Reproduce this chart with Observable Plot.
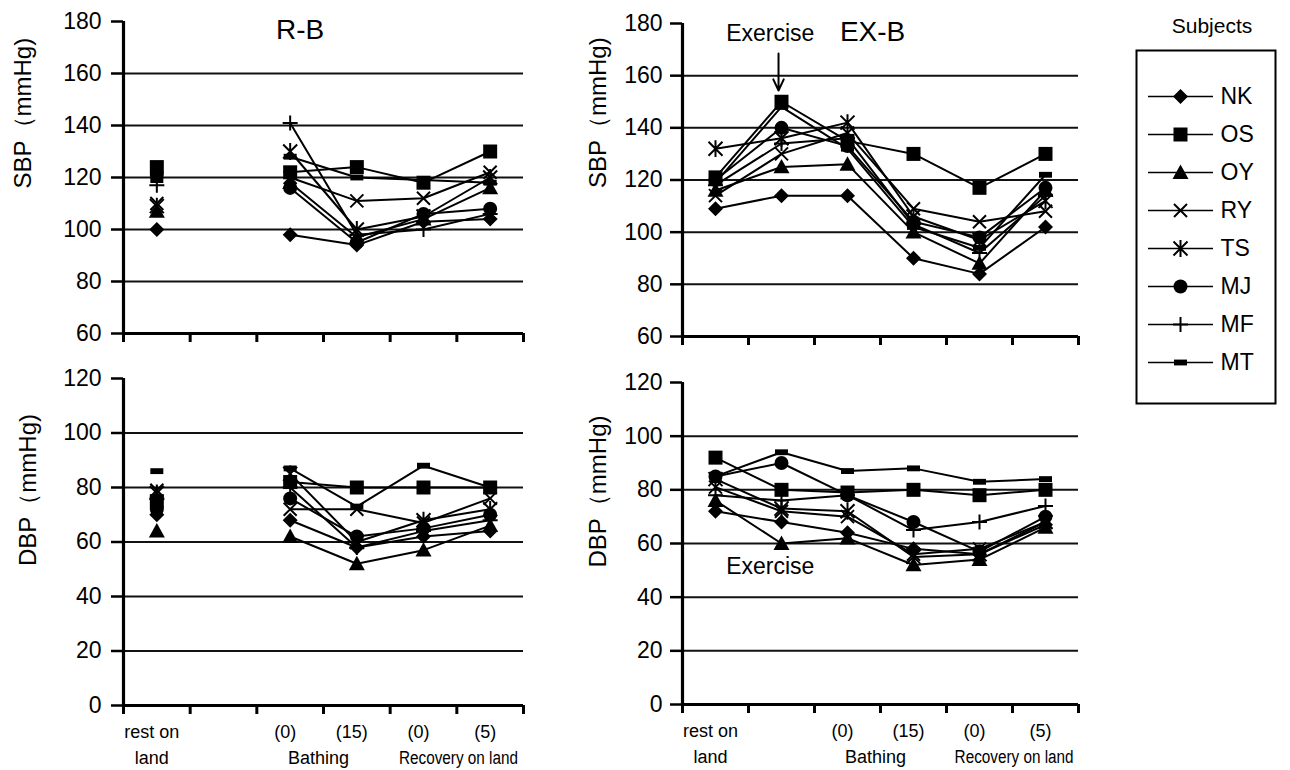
<!DOCTYPE html>
<html><head><meta charset="utf-8">
<script src="https://cdn.jsdelivr.net/npm/d3@7"></script>
<script src="https://cdn.jsdelivr.net/npm/@observablehq/plot@0.6"></script>
<style>
html,body{margin:0;padding:0;background:#fff;}
#root{position:relative;width:1290px;height:770px;overflow:hidden;background:#fff;}
#root > div{position:absolute;}
#root svg{overflow:visible;}
</style></head><body><div id="root"></div>
<script>
const subjects = ["NK","OS","OY","RY","TS","MJ","MF","MT"];
const slotLabelsTop = ["rest on", "", "(0)", "(15)", "(0)", "(5)"];
const groupLabels = ["land", "Bathing", "Recovery on land"];
const groupSlots = [0, 2.5, 4.6];
const sbpTicks = [60, 80, 100, 120, 140, 160, 180];
const dbpTicks = [0, 20, 40, 60, 80, 100, 120];
const slotEdges = [-0.5, 0.5, 1.5, 2.5, 3.5, 4.5, 5.5];

// rows follow `subjects`; columns: rest on land, exercise, bathing(0), bathing(15), recovery(0), recovery(5)
const rbSBP = [
  [100, null, 98, 94, 103, 104],
  [124, null, 122, 124, 118, 130],
  [107, null, 118, 97, 104, 116],
  [110, null, 120, 111, 112, 122],
  [109, null, 130, 100, 105, 120],
  [121, null, 116, 95, 106, 108],
  [117, null, 141, 98, 100, 106],
  [119, null, 128, 120, 119, 118]
];
const rbDBP = [
  [70, null, 68, 58, 62, 64],
  [75, null, 82, 80, 80, 80],
  [64, null, 62, 52, 57, 66],
  [79, null, 72, 72, 67, 76],
  [78, null, 85, 60, 68, 72],
  [72, null, 76, 62, 65, 70],
  [76, null, 80, 58, 64, 68],
  [86, null, 87, 73, 88, 80]
];
const exSBP = [
  [109, 114, 114, 90, 84, 102],
  [121, 150, 135, 130, 117, 130],
  [116, 125, 126, 100, 88, 116],
  [114, 130, 138, 109, 104, 108],
  [132, 136, 142, 106, 97, 112],
  [120, 140, 133, 104, 98, 117],
  [118, 134, 136, 103, 92, 114],
  [119, 148, 132, 102, 94, 122]
];
const exDBP = [
  [72, 68, 64, 58, 56, 67],
  [92, 80, 79, 80, 78, 80],
  [76, 60, 62, 52, 54, 66],
  [81, 72, 70, 56, 58, 68],
  [84, 73, 72, 55, 56, 68],
  [85, 90, 78, 68, 57, 70],
  [78, 76, 78, 65, 68, 74],
  [85, 94, 87, 88, 83, 84]
];

const SANS = '"Liberation Sans", Arial, Helvetica, sans-serif';

const K = s => Math.sqrt(s / Math.PI);
const symbols = {
  NK: {draw(c, s) { const k = K(s); c.moveTo(0, -k); c.lineTo(k, 0); c.lineTo(0, k); c.lineTo(-k, 0); c.closePath(); }},
  OS: {draw(c, s) { const k = K(s); c.rect(-k, -k, 2 * k, 2 * k); }},
  OY: {draw(c, s) { const k = K(s); c.moveTo(0, -k); c.lineTo(k, k * 0.8); c.lineTo(-k, k * 0.8); c.closePath(); }},
  RY: {draw(c, s) { const k = K(s); c.moveTo(-k, -k); c.lineTo(k, k); c.moveTo(k, -k); c.lineTo(-k, k); }},
  TS: {draw(c, s) { const k = K(s); c.moveTo(-k, -k); c.lineTo(k, k); c.moveTo(k, -k); c.lineTo(-k, k); c.moveTo(0, -k * 1.2); c.lineTo(0, k * 1.2); }},
  MJ: {draw(c, s) { const k = K(s); c.moveTo(k, 0); c.arc(0, 0, k, 0, 2 * Math.PI); }},
  MF: {draw(c, s) { const k = K(s); c.moveTo(-k, 0); c.lineTo(k, 0); c.moveTo(0, -k); c.lineTo(0, k); }},
  MT: {draw(c, s) { const k = K(s); c.rect(-k, -k * 0.45, 2 * k, 0.9 * k); }}
};
const symStyle = {
  NK: {r: 7.5, fill: "black"},
  OS: {r: 7, fill: "black"},
  OY: {r: 8, fill: "black"},
  RY: {r: 6.5, fill: "none", stroke: "black", strokeWidth: 2},
  TS: {r: 7, fill: "none", stroke: "black", strokeWidth: 2},
  MJ: {r: 7, fill: "black"},
  MF: {r: 7.5, fill: "none", stroke: "black", strokeWidth: 2},
  MT: {r: 6.5, fill: "black"}
};

function tidy(values) {
  const out = [];
  subjects.forEach((s, i) => values[i].forEach((v, j) => out.push({subject: s, slot: j, value: v})));
  return out;
}

function panel(o) {
  const data = tidy(o.values);
  const t = o.ticks, yMin = t[0], yMax = t[t.length - 1];
  const marks = [
    Plot.ruleY(t.slice(1, -1), {stroke: "#111", strokeWidth: 2}),
    Plot.axisY({ticks: t, tickSize: 12, tickPadding: o.tickPad, fontSize: 23, label: null, strokeWidth: 2.5, fontFamily: SANS}),
    Plot.axisX({ticks: slotEdges, tickSize: 9, tickFormat: () => "", label: null, strokeWidth: 3}),
    Plot.ruleX([-0.5], {strokeWidth: 3.2, stroke: "#000"}),
    Plot.ruleY([yMin], {strokeWidth: 3, stroke: "#000"}),
    Plot.line(data, {x: "slot", y: "value", z: "subject", stroke: "#000", strokeWidth: 2}),
    ...subjects.map(s => Plot.dot(data.filter(d => d.subject === s), {x: "slot", y: "value", symbol: symbols[s], ...symStyle[s]})),
    Plot.text([o.ylabel], {frameAnchor: "left", dx: o.labelDx, dy: o.labelDy, rotate: -90, fontSize: 24, fontFamily: SANS})
  ];
  if (o.notes) marks.push(Plot.text(o.notes, {x: "x", y: "y", text: "t", fontSize: "size", fontFamily: SANS}));
  if (o.arrows) marks.push(Plot.arrow(o.arrows, {x1: "x", x2: "x", y1: "y1", y2: "y2", strokeWidth: 2, headLength: 12, headAngle: 50}));
  if (o.xlabels) {
    const row1 = slotLabelsTop.map((t, i) => ({slot: i, t})).filter(d => d.t);
    const row2 = groupLabels.map((t, i) => ({slot: groupSlots[i], t}));
    marks.push(Plot.text(row1, {x: "slot", text: "t", frameAnchor: "bottom", lineAnchor: "middle", dy: 27, dx: -5, fontSize: 18, fontFamily: SANS}));
    marks.push(Plot.text(row2, {x: "slot", text: "t", frameAnchor: "bottom", lineAnchor: "middle", dy: 53, dx: -5, fontSize: 18, fontFamily: SANS}));
  }
  const svg = Plot.plot({
    width: o.width, height: o.height,
    marginTop: o.mt, marginBottom: o.mb, marginLeft: o.ml, marginRight: o.mr,
    x: {domain: [-0.5, 5.5]},
    y: {domain: [yMin, yMax]},
    style: {fontFamily: SANS, background: "white", color: "black", overflow: "visible"},
    marks
  });
  // the original sets "Recovery on land" in a condensed face
  d3.select(svg).selectAll("text").filter(function() { return this.textContent === "Recovery on land"; })
    .attr("textLength", 119).attr("lengthAdjust", "spacingAndGlyphs");
  return svg;
}

function place(node, left, top, w, h) {
  const d = document.createElement("div");
  d.style.left = left + "px"; d.style.top = top + "px"; d.style.width = w + "px"; d.style.height = h + "px";
  d.appendChild(node);
  document.getElementById("root").appendChild(d);
}

place(panel({values: rbSBP, ticks: sbpTicks, width: 570, height: 350, mt: 21, mb: 17, ml: 123, mr: 47, tickPad: 10,
  ylabel: "SBP（mmHg)", labelDx: -100, labelDy: 11,
  notes: [{x: 2.15, y: 176.9, t: "R-B", size: 28}]}), 0, 0, 570, 350);
place(panel({values: rbDBP, ticks: dbpTicks, width: 570, height: 420, mt: 28, mb: 65, ml: 123, mr: 47, tickPad: 10,
  ylabel: "DBP（mmHg)", labelDx: -95, labelDy: 24, xlabels: true}), 0, 350, 570, 420);
place(panel({values: exSBP, ticks: sbpTicks, width: 560, height: 350, mt: 23, mb: 14, ml: 112, mr: 52, tickPad: 8,
  ylabel: "SBP（mmHg)", labelDx: -84, labelDy: 8,
  notes: [{x: 2.38, y: 176.9, t: "EX-B", size: 28}, {x: 0.83, y: 176.2, t: "Exercise", size: 23}],
  arrows: [{x: 0.955, y1: 168.5, y2: 154.3}]}), 570, 0, 560, 350);
place(panel({values: exDBP, ticks: dbpTicks, width: 560, height: 420, mt: 32, mb: 66, ml: 112, mr: 52, tickPad: 8,
  ylabel: "DBP（mmHg)", labelDx: -84, labelDy: 24, xlabels: true,
  notes: [{x: 0.83, y: 51.4, t: "Exercise", size: 23}]}), 570, 350, 560, 420);

// legend
const legend = Plot.plot({
  width: 150, height: 410, marginTop: 50, marginBottom: 7, marginLeft: 6, marginRight: 5,
  x: {domain: [0, 150], range: [0, 150], axis: null},
  y: {type: "point", domain: subjects, range: [76.7, 382], axis: null},
  style: {fontFamily: SANS, background: "white", color: "black", overflow: "visible"},
  marks: [
    Plot.frame({stroke: "#000", strokeWidth: 2}),
    Plot.ruleY(subjects, {y: d => d, x1: 18, x2: 83, stroke: "#000", strokeWidth: 1.6}),
    ...subjects.map(s => Plot.dot([s], {x: 50, y: d => d, symbol: symbols[s], ...symStyle[s]})),
    Plot.text(subjects, {x: 90, y: d => d, text: d => d, textAnchor: "start", fontSize: 23}),
    Plot.text(["Subjects"], {frameAnchor: "top", dy: -32, dx: 6, fontSize: 21})
  ]
});
place(legend, 1130, 0, 150, 410);
</script></body></html>
